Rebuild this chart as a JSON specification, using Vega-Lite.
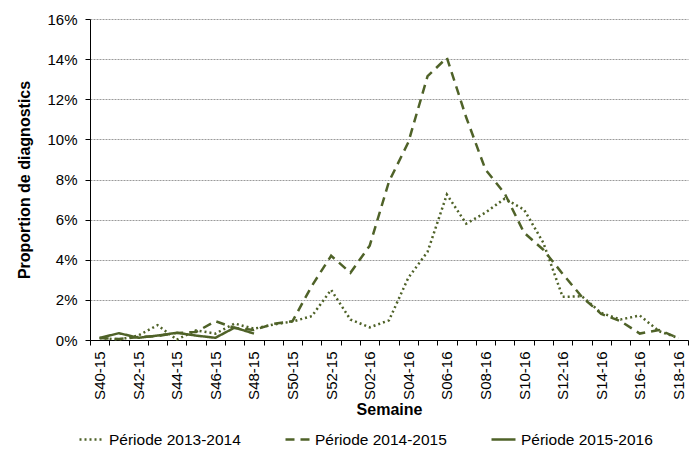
{
  "$schema": "https://vega.github.io/schema/vega-lite/v6.json",
  "width": 598,
  "height": 321,
  "autosize": {"type": "none"},
  "padding": {"left": 90, "top": 19, "right": 4, "bottom": 117},
  "config": {
    "view": {"stroke": null},
    "font": "Liberation Sans Narrow, Liberation Sans, sans-serif"
  },
  "data": {
    "values": [
      {"week": "S40-15", "period": "Période 2013-2014", "value": 0.10},
      {"week": "S41-15", "period": "Période 2013-2014", "value": 0.02},
      {"week": "S42-15", "period": "Période 2013-2014", "value": 0.22},
      {"week": "S43-15", "period": "Période 2013-2014", "value": 0.74},
      {"week": "S44-15", "period": "Période 2013-2014", "value": 0.02},
      {"week": "S45-15", "period": "Période 2013-2014", "value": 0.48},
      {"week": "S46-15", "period": "Période 2013-2014", "value": 0.32},
      {"week": "S47-15", "period": "Période 2013-2014", "value": 0.82},
      {"week": "S48-15", "period": "Période 2013-2014", "value": 0.56},
      {"week": "S49-15", "period": "Période 2013-2014", "value": 0.77},
      {"week": "S50-15", "period": "Période 2013-2014", "value": 0.92},
      {"week": "S51-15", "period": "Période 2013-2014", "value": 1.19},
      {"week": "S52-15", "period": "Période 2013-2014", "value": 2.50},
      {"week": "S01-16", "period": "Période 2013-2014", "value": 1.02},
      {"week": "S02-16", "period": "Période 2013-2014", "value": 0.63},
      {"week": "S03-16", "period": "Période 2013-2014", "value": 0.98},
      {"week": "S04-16", "period": "Période 2013-2014", "value": 3.10},
      {"week": "S05-16", "period": "Période 2013-2014", "value": 4.40},
      {"week": "S06-16", "period": "Période 2013-2014", "value": 7.25},
      {"week": "S07-16", "period": "Période 2013-2014", "value": 5.80},
      {"week": "S08-16", "period": "Période 2013-2014", "value": 6.35},
      {"week": "S09-16", "period": "Période 2013-2014", "value": 7.05},
      {"week": "S10-16", "period": "Période 2013-2014", "value": 6.50},
      {"week": "S11-16", "period": "Période 2013-2014", "value": 4.85},
      {"week": "S12-16", "period": "Période 2013-2014", "value": 2.15},
      {"week": "S13-16", "period": "Période 2013-2014", "value": 2.18},
      {"week": "S14-16", "period": "Période 2013-2014", "value": 1.35},
      {"week": "S15-16", "period": "Période 2013-2014", "value": 1.02},
      {"week": "S16-16", "period": "Période 2013-2014", "value": 1.22},
      {"week": "S17-16", "period": "Période 2013-2014", "value": 0.44},
      {"week": "S18-16", "period": "Période 2013-2014", "value": 0.10},
      {"week": "S40-15", "period": "Période 2014-2015", "value": 0.10},
      {"week": "S41-15", "period": "Période 2014-2015", "value": 0.05},
      {"week": "S42-15", "period": "Période 2014-2015", "value": 0.15},
      {"week": "S43-15", "period": "Période 2014-2015", "value": 0.20},
      {"week": "S44-15", "period": "Période 2014-2015", "value": 0.35},
      {"week": "S45-15", "period": "Période 2014-2015", "value": 0.40},
      {"week": "S46-15", "period": "Période 2014-2015", "value": 0.94},
      {"week": "S47-15", "period": "Période 2014-2015", "value": 0.60},
      {"week": "S48-15", "period": "Période 2014-2015", "value": 0.50},
      {"week": "S49-15", "period": "Période 2014-2015", "value": 0.80},
      {"week": "S50-15", "period": "Période 2014-2015", "value": 0.94},
      {"week": "S51-15", "period": "Période 2014-2015", "value": 2.70},
      {"week": "S52-15", "period": "Période 2014-2015", "value": 4.20},
      {"week": "S01-16", "period": "Période 2014-2015", "value": 3.35},
      {"week": "S02-16", "period": "Période 2014-2015", "value": 4.70},
      {"week": "S03-16", "period": "Période 2014-2015", "value": 7.90},
      {"week": "S04-16", "period": "Période 2014-2015", "value": 9.85},
      {"week": "S05-16", "period": "Période 2014-2015", "value": 13.15},
      {"week": "S06-16", "period": "Période 2014-2015", "value": 14.07},
      {"week": "S07-16", "period": "Période 2014-2015", "value": 11.10},
      {"week": "S08-16", "period": "Période 2014-2015", "value": 8.50},
      {"week": "S09-16", "period": "Période 2014-2015", "value": 7.30},
      {"week": "S10-16", "period": "Période 2014-2015", "value": 5.35},
      {"week": "S11-16", "period": "Période 2014-2015", "value": 4.50},
      {"week": "S12-16", "period": "Période 2014-2015", "value": 3.30},
      {"week": "S13-16", "period": "Période 2014-2015", "value": 2.15},
      {"week": "S14-16", "period": "Période 2014-2015", "value": 1.30},
      {"week": "S15-16", "period": "Période 2014-2015", "value": 0.94},
      {"week": "S16-16", "period": "Période 2014-2015", "value": 0.32},
      {"week": "S17-16", "period": "Période 2014-2015", "value": 0.50},
      {"week": "S18-16", "period": "Période 2014-2015", "value": 0.10},
      {"week": "S40-15", "period": "Période 2015-2016", "value": 0.10},
      {"week": "S41-15", "period": "Période 2015-2016", "value": 0.34},
      {"week": "S42-15", "period": "Période 2015-2016", "value": 0.11},
      {"week": "S43-15", "period": "Période 2015-2016", "value": 0.22},
      {"week": "S44-15", "period": "Période 2015-2016", "value": 0.36},
      {"week": "S45-15", "period": "Période 2015-2016", "value": 0.22},
      {"week": "S46-15", "period": "Période 2015-2016", "value": 0.11},
      {"week": "S47-15", "period": "Période 2015-2016", "value": 0.62},
      {"week": "S48-15", "period": "Période 2015-2016", "value": 0.32}
    ]
  },
  "mark": {"type": "line", "strokeWidth": 2.5, "color": "#4f6228", "strokeCap": "butt"},
  "encoding": {
    "x": {
      "field": "week",
      "type": "ordinal",
      "sort": null,
      "scale": {"type": "band", "paddingInner": 0, "paddingOuter": 0},
      "axis": {
        "tickBand": "extent",
        "labelAngle": -90,
        "labelAlign": "right",
        "labelBaseline": "middle",
        "labelFontSize": 15,
        "labelColor": "#000",
        "labelPadding": 6,
        "labelOverlap": false,
        "labelExpr": "toNumber(substring(datum.value, 1, 3)) % 2 == 0 ? datum.value : ''",
        "domainColor": "#000",
        "tickColor": "#000",
        "tickSize": 5,
        "grid": false,
        "title": "Semaine",
        "titleFontSize": 16,
        "titleFontWeight": "bold",
        "titleColor": "#000",
        "titlePadding": 2
      }
    },
    "y": {
      "field": "value",
      "type": "quantitative",
      "scale": {"domain": [0, 16], "nice": false},
      "axis": {
        "values": [0, 2, 4, 6, 8, 10, 12, 14, 16],
        "labelExpr": "datum.value + '%'",
        "labelFontSize": 15,
        "labelColor": "#000",
        "labelPadding": 8,
        "domainColor": "#000",
        "tickColor": "#000",
        "tickSize": 5,
        "grid": true,
        "gridColor": "#9a9a9a",
        "gridDash": [2, 1],
        "gridWidth": 1,
        "title": "Proportion de diagnostics",
        "titleFontSize": 16,
        "titleFontWeight": "bold",
        "titleColor": "#000",
        "titlePadding": 14
      }
    },
    "strokeDash": {
      "field": "period",
      "type": "nominal",
      "scale": {
        "domain": ["Période 2013-2014", "Période 2014-2015", "Période 2015-2016"],
        "range": [[2, 3], [9, 6], [1, 0]]
      },
      "legend": {
        "title": null,
        "orient": "none",
        "legendX": -12,
        "legendY": 407,
        "direction": "horizontal",
        "columns": 3,
        "symbolType": "stroke",
        "symbolStrokeColor": "#4f6228",
        "symbolStrokeWidth": 2.5,
        "symbolSize": 576,
        "labelFontSize": 15.5,
        "labelColor": "#000",
        "labelOffset": 4,
        "columnPadding": 39
      }
    }
  }
}
